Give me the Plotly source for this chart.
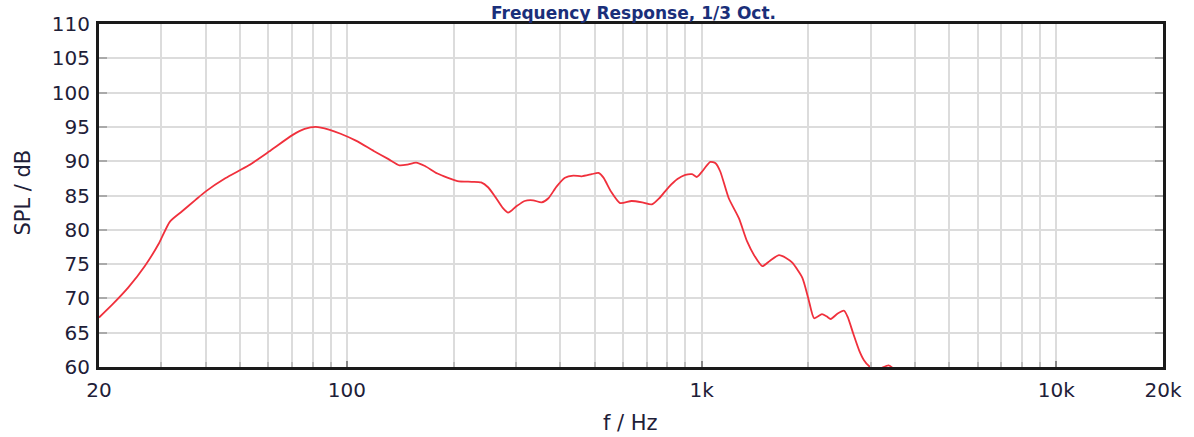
import plotly.graph_objects as go

# ---- data ----
freq_hz = [20, 22, 24.2, 27, 29.5, 31.7, 34.3, 37.5, 40, 45.4, 52.9, 60.3, 70.2, 76, 81.7,
           89, 96, 106, 119, 131, 140.6, 148, 156.7, 166, 180, 205, 225, 239, 250, 262,
           275, 285, 300, 317, 335, 354, 370, 390, 412, 435, 459, 490, 512, 529, 555,
           589, 635, 680, 724, 760, 807, 855, 900, 940, 970, 1000, 1058, 1095, 1129,
           1193, 1274, 1344, 1410, 1483, 1560, 1653, 1730, 1802, 1924, 2000, 2077,
           2185, 2250, 2313, 2420, 2523, 2582, 2680, 2783, 2870, 2970, 3100, 3200,
           3366, 3480, 3600]
spl_db = [67.2, 69.3, 71.6, 74.8, 78.0, 81.2, 82.7, 84.4, 85.6, 87.5, 89.4, 91.4, 93.8, 94.7, 95.0,
          94.6, 94.0, 93.0, 91.5, 90.3, 89.4, 89.5, 89.8, 89.3, 88.2, 87.1, 87.0, 86.9, 86.2, 84.8,
          83.2, 82.5, 83.4, 84.2, 84.3, 84.0, 84.6, 86.3, 87.6, 87.9, 87.8, 88.1, 88.3, 87.6, 85.6,
          83.9, 84.2, 84.0, 83.7, 84.6, 86.2, 87.4, 88.0, 88.1, 87.7, 88.4, 89.9, 89.7, 88.5,
          84.6, 81.7, 78.3, 76.2, 74.7, 75.5, 76.3, 75.9, 75.2, 73.0, 70.0, 67.1,
          67.7, 67.4, 67.0, 67.8, 68.2, 67.3, 64.8, 62.4, 61.0, 60.1, 59.6, 59.8,
          60.25, 59.7, 58.5]

x_tick_vals = [20, 100, 1000, 10000, 20000]
x_tick_text = ["20", "100", "1k", "10k", "20k"]
x_minor_vals = [30, 40, 50, 60, 70, 80, 90,
                200, 300, 400, 500, 600, 700, 800, 900,
                2000, 3000, 4000, 5000, 6000, 7000, 8000, 9000]
y_min, y_max, y_step = 60, 110, 5

title_text = "Frequency Response, 1/3 Oct."
x_title = "f / Hz"
y_title = "SPL / dB"

# ---- figure ----
W, H = 1194, 437
L, R, T, B = 99, 30, 21, 70
plot_w, plot_h = W - L - R, H - T - B

FONT = "DejaVu Sans, Verdana, sans-serif"
TXT = "#1e2038"

fig = go.Figure()
fig.add_trace(go.Scatter(
    x=freq_hz, y=spl_db, mode="lines",
    line=dict(color="#f0303c", width=1.8, shape="spline", smoothing=0.6),
    hoverinfo="x+y", showlegend=False,
))

tick_font = dict(family=FONT, size=20, color=TXT)
grid_col = "#dcdcdc"

fig.update_xaxes(
    type="log", range=[1.30103, 4.30103],
    tickvals=x_tick_vals, ticktext=x_tick_text,
    showgrid=True, gridcolor=grid_col, gridwidth=1.5,
    ticks="inside", ticklen=6, tickwidth=2, tickcolor="#888888",
    minor=dict(tickvals=x_minor_vals, showgrid=True, gridcolor=grid_col, gridwidth=1.5,
               ticks="inside", ticklen=5, tickcolor="#bbbbbb", tickwidth=1.5),
    showline=True, linecolor="#1a1a1a", linewidth=3, mirror=True,
    tickfont=tick_font, ticklabelstandoff=3, zeroline=False,
)
fig.update_yaxes(
    range=[y_min, y_max], dtick=y_step, tick0=y_min,
    showgrid=True, gridcolor=grid_col, gridwidth=1.5,
    ticks="inside", ticklen=8, tickwidth=2, tickcolor="#aaaaaa",
    showline=True, linecolor="#1a1a1a", linewidth=3, mirror="ticks",
    tickfont=tick_font, ticklabelstandoff=2, zeroline=False,
)

fig.add_annotation(
    text=title_text, xref="paper", yref="paper",
    x=0.5 + (634 - (L + plot_w / 2)) / plot_w, y=1 + (T - 10) / plot_h,
    xanchor="center", yanchor="middle", showarrow=False,
    font=dict(family=FONT, size=17, color="#1a2f7a", weight="bold"),
)
fig.add_annotation(
    text=x_title, xref="paper", yref="paper",
    x=0.5 + (631 - (L + plot_w / 2)) / plot_w, y=-(423 - (T + plot_h)) / plot_h,
    xanchor="center", yanchor="middle", showarrow=False,
    font=dict(family=FONT, size=21, color=TXT),
)
fig.add_annotation(
    text=y_title, xref="paper", yref="paper",
    x=(22 - L) / plot_w, y=0.5 + (T + plot_h / 2 - 191) / plot_h,
    xanchor="center", yanchor="middle", showarrow=False, textangle=-90,
    font=dict(family=FONT, size=21, color=TXT),
)

fig.update_layout(
    width=W, height=H,
    margin=dict(l=L, r=R, t=T, b=B, pad=0),
    paper_bgcolor="white", plot_bgcolor="white",
    showlegend=False,
)

fig.write_html("out.html", config={"displayModeBar": False},
               post_script="document.body.style.margin='0';document.body.style.overflow='hidden';")
